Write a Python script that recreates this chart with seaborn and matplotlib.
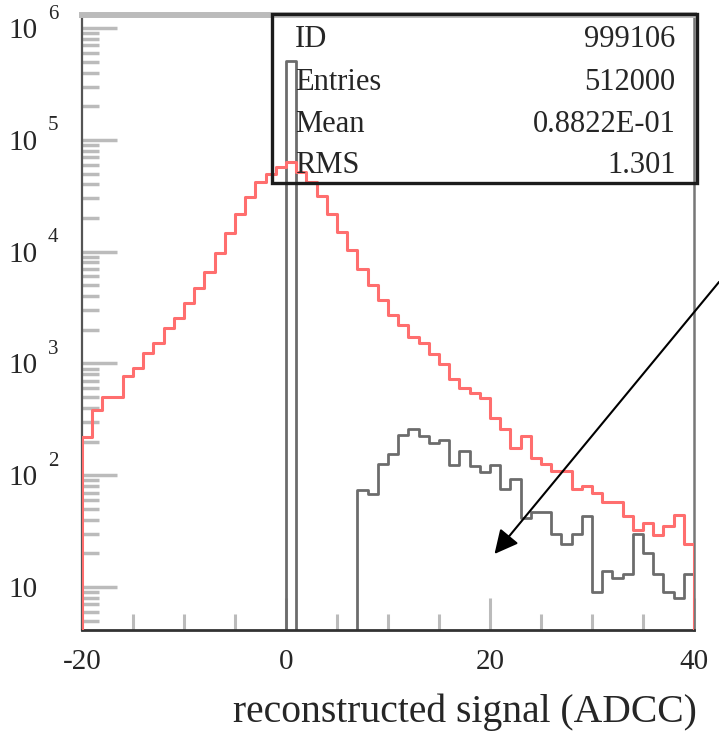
import numpy as np
import pandas as pd
import matplotlib
matplotlib.use("Agg")
import matplotlib.pyplot as plt
import seaborn as sns
from matplotlib.patches import Rectangle
from matplotlib.ticker import FixedLocator, MultipleLocator, LogLocator, NullFormatter

# unit-wide bins covering [-20, 40)
bin_left = np.arange(-20, 40)

# reconstructed signal, all channels (red)
signal_counts = [221, 383, 498, 498, 771, 903, 1230, 1531, 2060, 2530,
                 3445, 4696, 6610, 9660, 14580, 21700, 31000, 42200, 49400, 57500,
                 63700, 51900, 42200, 31400, 21700, 15100, 10300, 6950, 5030, 3690,
                 2710, 2200, 1710, 1510, 1214, 988, 721, 605, 541, 493,
                 323, 257, 176, 224, 142, 126, 110, 110, 75, 80,
                 69, 58, 58, 43, 32, 37, 29, 35, 44, 24]

# histogram 999106 (grey): pedestal spike plus signal tail
h999106_counts = ([0] * 20 + [509000] + [0] * 6 +
                  [74, 68, 126, 155, 229, 257, 224, 193, 206, 123,
                   166, 121, 107, 123, 76, 92, 41, 47, 47, 30,
                   24, 30, 43, 9, 14, 12, 13, 30, 20, 13,
                   9, 8, 13])

stat_names = ["ID", "Entries", "Mean", "RMS"]
stat_values = ["999106", "512000", "0.8822E-01", "1.301"]

xtick_values = [-20, 0, 20, 40]
xtick_labels = ["-20", "0", "20", "40"]
ytick_exponents = [1, 2, 3, 4, 5, 6]

xlabel_text = "reconstructed signal (ADCC)"

sns.set_style("white")
plt.rcParams["font.family"] = ["Liberation Serif", "DejaVu Serif"]

fig = plt.figure(figsize=(7.19, 7.31), dpi=100)
ax = fig.add_axes([82 / 719, 101 / 731, 612 / 719, 615 / 731])


def padded(counts):
    # one empty bin on each side so the outline drops to zero at the ends
    edges = np.arange(bin_left[0] - 1, bin_left[-1] + 3)
    centers = edges[:-1] + 0.5
    weights = np.concatenate([[0], counts, [0]])
    return pd.DataFrame({"x": centers, "w": weights}), [float(e) for e in edges]


df_sig, edges = padded(signal_counts)
df_ped, _ = padded(h999106_counts)

sns.histplot(data=df_sig, x="x", weights="w", bins=edges, element="step",
             fill=False, color="#ff6e6e", linewidth=2.2, ax=ax, zorder=2.6)
sns.histplot(data=df_ped, x="x", weights="w", bins=edges, element="step",
             fill=False, color="#6c6c6c", linewidth=2.0, ax=ax, zorder=2.1)

ax.set_yscale("log")
ax.set_xlim(-20, 40)
ax.set_ylim(4.12, 1.31e6)

# x axis ticks
ax.xaxis.set_major_locator(FixedLocator(xtick_values))
ax.set_xticklabels(xtick_labels)
ax.xaxis.set_minor_locator(MultipleLocator(5))
ax.tick_params(axis="x", which="major", direction="in", length=23, width=2.2,
               color="#bbbbbb", pad=14, labelsize=21, bottom=True, top=False)
ax.tick_params(axis="x", which="minor", direction="in", length=11.5, width=2.2,
               color="#bbbbbb", bottom=True, top=False)

# y axis ticks: "10" at each decade, exponent drawn separately
decades = [10.0 ** e for e in ytick_exponents]
ax.yaxis.set_major_locator(FixedLocator(decades))
ax.set_yticklabels(["10"] * len(decades))
ax.yaxis.set_minor_locator(LogLocator(base=10, subs=np.arange(2, 10), numticks=20))
ax.yaxis.set_minor_formatter(NullFormatter())
ax.tick_params(axis="y", which="major", direction="in", length=25, width=2.5,
               color="#bbbbbb", pad=31.7, labelsize=21, left=True, right=False)
ax.tick_params(axis="y", which="minor", direction="in", length=12, width=2.5,
               color="#bbbbbb", left=True, right=False)
ytrans = ax.get_yaxis_transform()
for e in ytick_exponents:
    if e == 1:
        continue
    ax.annotate(str(e), xy=(0, 10.0 ** e), xycoords=ytrans,
                xytext=(-24.5, 10), textcoords="offset points",
                ha="left", va="center", fontsize=15, annotation_clip=False)

ax.set_ylabel("")
ax.set_xlabel(xlabel_text, fontsize=28.5, ha="right", va="center")
ax.xaxis.set_label_coords(1.005, -0.1333)

# frame
ax.spines["left"].set_color("#555555")
ax.spines["left"].set_linewidth(1.6)
ax.spines["bottom"].set_color("#333333")
ax.spines["bottom"].set_linewidth(2.0)
ax.spines["right"].set_color("#777777")
ax.spines["right"].set_linewidth(1.8)
ax.spines["top"].set_color("#bbbbbb")
ax.spines["top"].set_linewidth(4.3)

# statistics box
bx0, by0, bx1, by1 = 0.3105, 0.7268, 1.005, 1.0016
ax.add_patch(Rectangle((bx0, by0), bx1 - bx0, by1 - by0, transform=ax.transAxes,
                       facecolor="white", edgecolor="none", zorder=1.5, clip_on=False))
ax.add_patch(Rectangle((bx0, by0), bx1 - bx0, by1 - by0, transform=ax.transAxes,
                       facecolor="none", edgecolor="#1c1c1c", linewidth=2.4,
                       zorder=3, clip_on=False))
row_y = [0.948, 0.8776, 0.8092, 0.7431]
for name, val, yy in zip(stat_names, stat_values, row_y):
    ax.text(0.3485, yy, name, transform=ax.transAxes, ha="left", va="baseline",
            fontsize=22, zorder=4)
    ax.text(0.970, yy, val, transform=ax.transAxes, ha="right", va="baseline",
            fontsize=22, zorder=4)

# pointer arrow
ax.annotate("", xy=(0.674, 0.1236), xycoords="axes fraction",
            xytext=(1.041, 0.566), textcoords="axes fraction",
            arrowprops=dict(arrowstyle="-|>,head_length=1.0,head_width=0.5",
                            mutation_scale=14.4, lw=1.5, color="black",
                            shrinkA=0, shrinkB=0),
            annotation_clip=False, zorder=5)

fig.savefig("out.png", dpi=100)
